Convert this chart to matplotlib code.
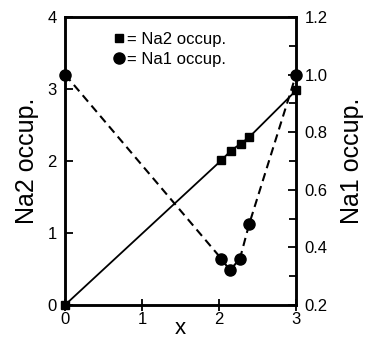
import matplotlib
matplotlib.use("Agg")
import matplotlib.pyplot as plt
from matplotlib.lines import Line2D
from matplotlib.ticker import MultipleLocator

plt.rcParams["font.family"] = ["Liberation Sans", "DejaVu Sans"]

# Na2 occupancy (left axis)
x_na2 = [0.0, 2.03, 2.15, 2.28, 2.39, 3.0]
na2 = [0.0, 2.01, 2.14, 2.24, 2.33, 2.98]

# Na1 occupancy (right axis)
x_na1 = [0.0, 2.03, 2.14, 2.27, 2.39, 3.0]
na1 = [1.0, 0.36, 0.32, 0.36, 0.48, 1.0]

fig = plt.figure(figsize=(3.66, 3.41), dpi=100)
ax = fig.add_axes([0.178, 0.106, 0.631, 0.844])
ax2 = ax.twinx()

ax.plot(x_na2, na2, "-", color="black", lw=1.3, marker="s", ms=5.5, clip_on=False, zorder=3)
ax2.plot(x_na1, na1, "--", color="black", lw=1.5, dashes=(4, 2.5), marker="o", ms=8,
         clip_on=False, zorder=3)

ax.set_xlim(0, 3)
ax.set_ylim(0, 4)
ax2.set_ylim(0.2, 1.2)
ax.set_xticks([0, 1, 2, 3])
ax.set_yticks([0, 1, 2, 3, 4])
ax2.set_yticks([0.2, 0.4, 0.6, 0.8, 1.0, 1.2])
ax2.set_yticklabels(["0.2", "0.4", "0.6", "0.8", "1.0", "1.2"])
ax2.yaxis.set_minor_locator(MultipleLocator(0.1))

for a in (ax, ax2):
    for s in a.spines.values():
        s.set_linewidth(1.8)
    a.tick_params(direction="in", length=6, width=1.3, labelsize=12, pad=6)
    a.tick_params(which="minor", direction="in", length=5, width=1.3)
ax.tick_params(axis="x", direction="inout", length=8, pad=1)

ax.set_xlabel("x", fontsize=16, labelpad=-6)
ax.set_ylabel("Na2 occup.", fontsize=18, labelpad=6)
ax2.set_ylabel("Na1 occup.", fontsize=18, rotation=90, labelpad=9)

handles = [Line2D([], [], ls="none", marker="s", ms=5.5, color="black"),
           Line2D([], [], ls="none", marker="o", ms=8, color="black")]
ax.legend(handles, ["= Na2 occup.", "= Na1 occup."], loc="upper left",
          bbox_to_anchor=(0.16, 0.99), frameon=False, handlelength=0.6,
          handletextpad=0.2, labelspacing=0.3, fontsize=12, borderpad=0.2)

fig.savefig("out.png", dpi=100)
